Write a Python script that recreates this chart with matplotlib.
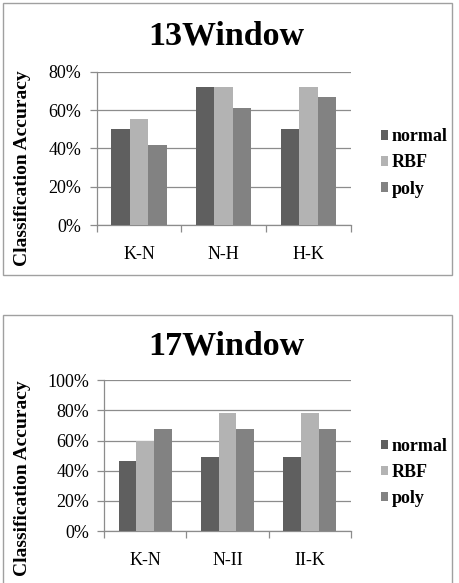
import matplotlib
matplotlib.use("Agg")
import matplotlib.pyplot as plt
from matplotlib.patches import Rectangle
from matplotlib.ticker import FuncFormatter
import numpy as np

series = ["normal", "RBF", "poly"]
colors = ["#5f5f5f", "#b3b3b3", "#828282"]

cats_13 = ["K-N", "N-H", "H-K"]
normal_13 = [50.0, 72.2, 50.0]
rbf_13 = [55.6, 72.2, 72.2]
poly_13 = [41.7, 61.1, 66.7]

cats_17 = ["K-N", "N-II", "II-K"]
normal_17 = [46.4, 49.1, 49.1]
rbf_17 = [59.5, 78.3, 78.3]
poly_17 = [67.6, 67.6, 67.6]

W, H = 459, 583
fig = plt.figure(figsize=(W / 100, H / 100), dpi=100)
fig.patch.set_facecolor("white")
SERIF = "Liberation Serif"
GRID = "#8c8c8c"


def px_ax(l, t, r, b):
    return fig.add_axes([l / W, (H - b) / H, (r - l) / W, (b - t) / H])


def frame(l, t, r, b):
    fig.patches.append(Rectangle((l / W, (H - b) / H), (r - l) / W, (b - t) / H,
                                 transform=fig.transFigure, fill=False,
                                 edgecolor="#a0a0a0", linewidth=1.0))


def draw(ax, cats, vals, ymax, title, title_y, ylab_y, leg_y):
    n = len(cats)
    x = np.arange(n)
    bw = 0.218
    for i, (name, v, c) in enumerate(zip(series, vals, colors)):
        ax.bar(x + (i - 1) * bw, np.array(v) / 100.0, width=bw, color=c,
               label=name, zorder=3, linewidth=0)
    ax.set_xlim(-0.5, n - 0.5)
    ax.set_ylim(0, ymax)
    ax.set_yticks(np.arange(0, ymax + 0.001, 0.2))
    ax.yaxis.set_major_formatter(FuncFormatter(lambda v, p: f"{v*100:.0f}%"))
    ax.yaxis.grid(True, color=GRID, linewidth=0.9, zorder=0)
    ax.set_axisbelow(True)
    for s in ["top", "right"]:
        ax.spines[s].set_visible(False)
    for s in ["left", "bottom"]:
        ax.spines[s].set_color(GRID)
        ax.spines[s].set_linewidth(0.9)
    ax.set_xticks(x)
    ax.set_xticklabels(cats, fontfamily=SERIF, fontsize=13)
    ax.set_xticks(np.arange(-0.5, n, 1.0), minor=True)
    ax.tick_params(axis="x", which="major", length=0, pad=15)
    ax.tick_params(axis="x", which="minor", length=5, color=GRID, width=0.9)
    ax.tick_params(axis="y", length=5, color=GRID, width=0.9, pad=6)
    for lab in ax.get_yticklabels():
        lab.set_fontfamily(SERIF)
        lab.set_fontsize(13)
    fig.text(226 / W, (H - title_y) / H, title, ha="center", va="center",
             fontfamily=SERIF, fontweight="bold", fontsize=24.5)
    fig.text(23 / W, (H - ylab_y) / H, "Classification Accuracy", rotation=90,
             ha="center", va="center", fontfamily=SERIF, fontweight="bold",
             fontsize=14)
    ax.legend(loc="center left", bbox_to_anchor=(380.5 / W, (H - leg_y) / H),
              bbox_transform=fig.transFigure, frameon=False,
              prop={"family": SERIF, "weight": "bold", "size": 13},
              handlelength=0.42, handleheight=0.42, handletextpad=0.22,
              labelspacing=0.5, borderpad=0, borderaxespad=0)


frame(2.5, 3, 452, 274.5)
frame(2.5, 315, 452, 600)

ax1 = px_ax(96.7, 71.7, 350.7, 225.3)
draw(ax1, cats_13, [normal_13, rbf_13, poly_13], 0.8, "13Window", 36, 168.5, 163)

ax2 = px_ax(104.3, 380.3, 350.7, 531)
draw(ax2, cats_17, [normal_17, rbf_17, poly_17], 1.0, "17Window", 346, 478.5, 472.5)

fig.savefig("out.png", dpi=100, facecolor="white")
